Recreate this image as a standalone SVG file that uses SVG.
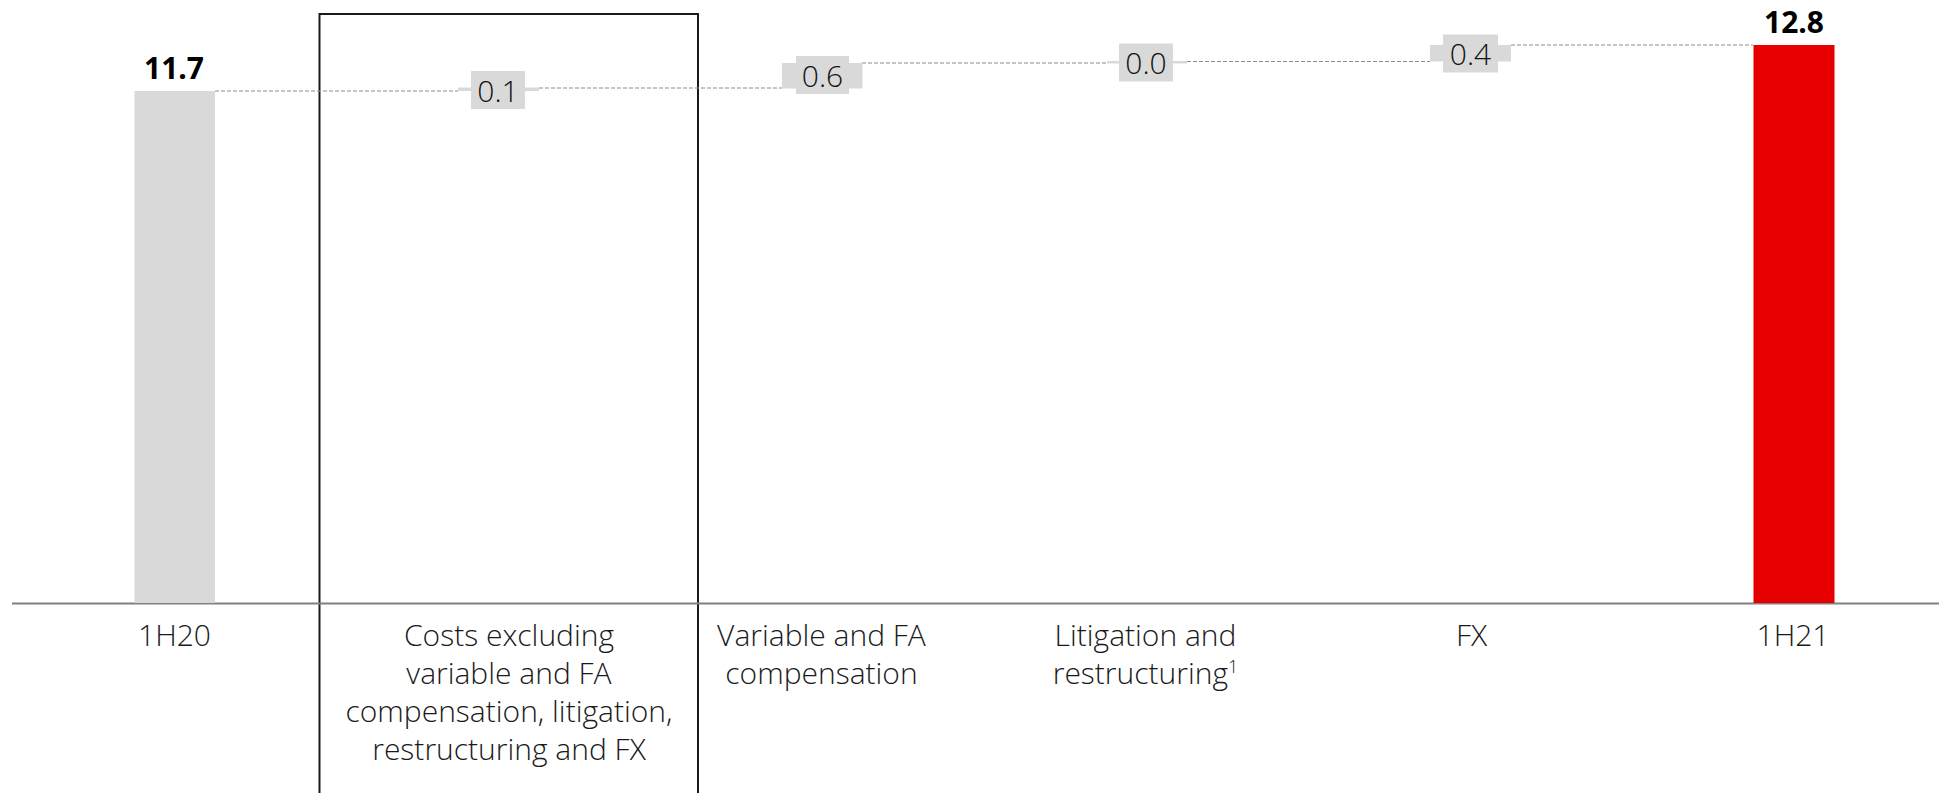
<svg xmlns="http://www.w3.org/2000/svg" width="1939" height="793" viewBox="0 0 1939 793">
<style>
.bar{fill:#d9d9d9}
.red{fill:#e60000}
.lbl{fill:#d9d9d9}
.txt{font-family:"Open Sans","Liberation Sans",sans-serif;font-weight:300;font-size:30px;fill:#1a1a1a;text-anchor:middle}
.val{font-family:"Open Sans","Liberation Sans",sans-serif;font-weight:300;font-size:30px;fill:#111111;text-anchor:middle}
.tot{font-family:"Open Sans","Liberation Sans",sans-serif;font-weight:700;font-size:30px;fill:#000;text-anchor:middle}
.dash{stroke:#8c8c8c;stroke-width:1;stroke-dasharray:4 2;fill:none}
</style>
<rect width="1939" height="793" fill="#ffffff"/>

<g id="highlight-box">
  <rect x="319.5" y="14" width="378.5" height="790" fill="none" stroke="#1a1a1a" stroke-width="2"/>
</g>

<g id="connectors">
  <line class="dash" x1="215" y1="91" x2="458" y2="91"/>
  <line class="dash" x1="539" y1="88" x2="782" y2="88"/>
  <line class="dash" x1="862" y1="63" x2="1107" y2="63"/>
  <line class="dash" x1="1187" y1="61.5" x2="1430" y2="61.5"/>
  <line class="dash" x1="1511" y1="45" x2="1753" y2="45"/>
</g>

<g id="axis">
  <line x1="12" y1="603.5" x2="1939" y2="603.5" stroke="#808080" stroke-width="2"/>
</g>

<g id="node-1h20">
  <rect class="bar" x="134.5" y="91" width="80.5" height="512"/>
  <text class="tot" x="174" y="79">11.7</text>
  <text class="txt" x="174.5" y="646">1H20</text>
</g>

<g id="node-costs">
  <rect class="bar" x="458" y="87.5" width="81" height="3.5"/>
  <rect class="lbl" x="471" y="71" width="54" height="38"/>
  <text class="val" x="498" y="101.5">0.1</text>
  <text class="txt" x="509" y="646">Costs excluding</text>
  <text class="txt" x="509" y="684">variable and FA</text>
  <text class="txt" x="509" y="722">compensation, litigation,</text>
  <text class="txt" x="509" y="760">restructuring and FX</text>
</g>

<g id="node-variable">
  <rect class="bar" x="782" y="63" width="80.5" height="25.5"/>
  <rect class="lbl" x="796" y="56" width="53" height="38"/>
  <text class="val" x="822.5" y="86.5">0.6</text>
  <text class="txt" x="821.5" y="646">Variable and FA</text>
  <text class="txt" x="821.5" y="684">compensation</text>
</g>

<g id="node-litigation">
  <rect class="bar" x="1107" y="61" width="80" height="2.5"/>
  <rect class="lbl" x="1119" y="43.5" width="54" height="38"/>
  <text class="val" x="1146" y="73.5">0.0</text>
  <text class="txt" x="1145.5" y="646">Litigation and</text>
  <text class="txt" x="1145.5" y="684">restructuring<tspan font-size="18" dy="-11">1</tspan></text>
</g>

<g id="node-fx">
  <rect class="bar" x="1430" y="45" width="81" height="16.5"/>
  <rect class="lbl" x="1443" y="34.5" width="55" height="38"/>
  <text class="val" x="1470.5" y="65">0.4</text>
  <text class="txt" x="1471.5" y="646">FX</text>
</g>

<g id="node-1h21">
  <rect class="red" x="1753.5" y="45" width="81" height="558"/>
  <text class="tot" x="1794" y="32.5">12.8</text>
  <text class="txt" x="1793" y="646">1H21</text>
</g>
</svg>
